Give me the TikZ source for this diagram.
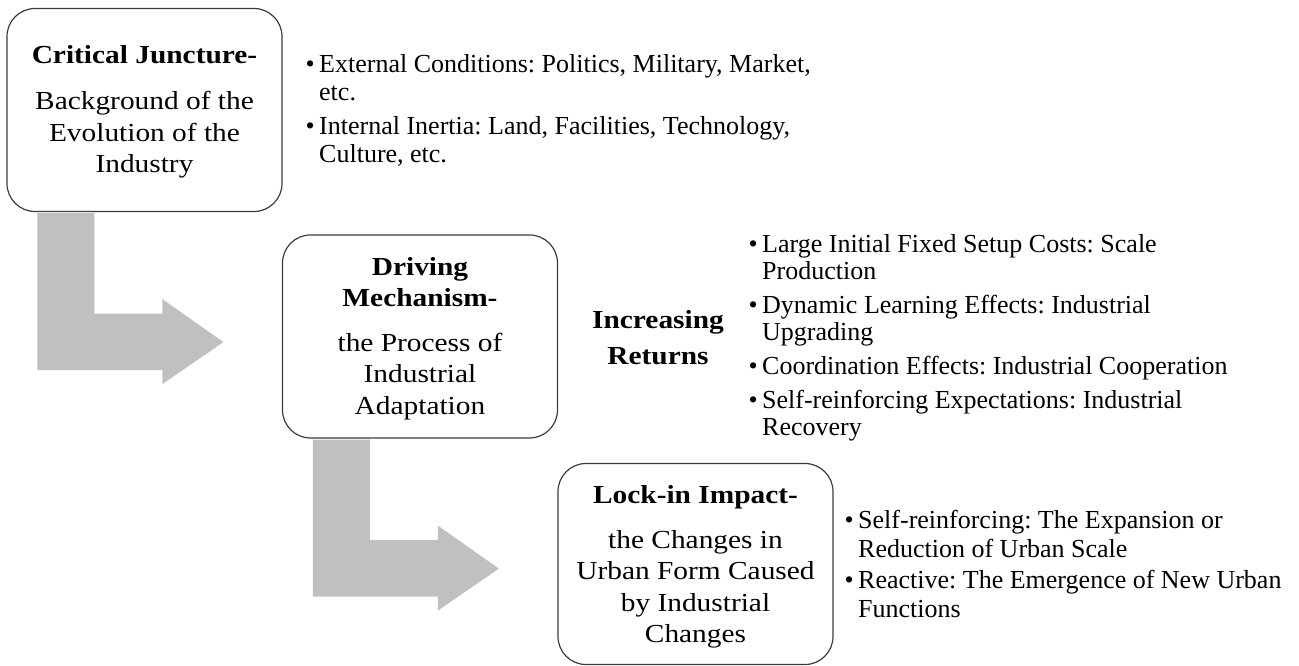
\documentclass[tikz,border=0pt]{standalone}
\usepackage{fontspec}
\setmainfont{Liberation Serif}
\newfontfamily\boxfont[FakeStretch=1.13]{Liberation Serif}
\usetikzlibrary{calc}
\frenchspacing
\definecolor{arrowgray}{RGB}{191,192,194}
\definecolor{boxline}{RGB}{60,60,60}
\tikzset{
  stagebox/.style={draw=boxline, line width=1.2pt, rounded corners=28pt, fill=white,
    minimum width=275pt, minimum height=203pt, inner sep=0pt, align=center,
    font={\boxfont\fontsize{26}{31.5}\selectfont}},
  bulletlist/.style={anchor=base west, inner sep=0pt},
  blockarrow/.style={fill=arrowgray, draw=none},
  keylabel/.style={anchor=base, inner sep=0pt, font={\boxfont\bfseries\fontsize{26}{36}\selectfont}}
}
\newcommand\grayturn[1]{%
  \fill[blockarrow] ($(#1.south west)+(31,1)$) -- ($(#1.south west)+(88,1)$)
    -- ($(#1.south west)+(88,101.5)$) -- ($(#1.south west)+(156,101.5)$)
    -- ($(#1.south west)+(156,87)$) -- ($(#1.south west)+(217,130)$)
    -- ($(#1.south west)+(156,172)$) -- ($(#1.south west)+(156,158)$)
    -- ($(#1.south west)+(31,158)$) -- cycle;}
\begin{document}
\begin{tikzpicture}[x=1pt,y=-1pt]
\useasboundingbox (0,0) rectangle (1299,666);

% stage boxes
\node[stagebox] (cj) at (144.5,110) {\rule{0pt}{22pt}\textbf{Critical Juncture-}\\[15pt]Background of the\\Evolution of the\\Industry};
\node[stagebox] (dm) at (420,336.5) {\rule{0pt}{22pt}\textbf{Driving}\\\textbf{Mechanism-}\\[13pt]the Process of\\Industrial\\Adaptation};
\node[stagebox, minimum height=201pt] (li) at (695.5,564) {\rule{0pt}{24pt}\textbf{Lock-in Impact-}\\[13pt]the Changes in\\Urban Form Caused\\by Industrial\\Changes};

% block arrows between stages
\grayturn{cj}
\grayturn{dm}

% bullet lists
\node[bulletlist, font={\fontsize{26}{28}\selectfont}] (ext) at (305.4,73) {\begin{tabular}[t]{@{}l@{\hspace{4.5pt}}l@{}}
•&External Conditions: Politics, Military, Market,\\
&etc.\\[6pt]
•&Internal Inertia: Land, Facilities, Technology,\\
&Culture, etc.
\end{tabular}};

\node[keylabel] (inc) at (658,328) {\begin{tabular}[t]{@{}c@{}}Increasing\\Returns\end{tabular}};

\node[bulletlist, font={\fontsize{26}{27}\selectfont}] (ret) at (748.4,252) {\begin{tabular}[t]{@{}l@{\hspace{4.5pt}}l@{}}
•&Large Initial Fixed Setup Costs: Scale\\
&Production\\[7pt]
•&Dynamic Learning Effects: Industrial\\
&Upgrading\\[7pt]
•&Coordination Effects: Industrial Cooperation\\[7pt]
•&Self-reinforcing Expectations: Industrial\\
&Recovery
\end{tabular}};

\node[bulletlist, font={\fontsize{26}{29}\selectfont}] (urb) at (844.4,528) {\begin{tabular}[t]{@{}l@{\hspace{4.5pt}}l@{}}
•&Self-reinforcing: The Expansion or\\
&Reduction of Urban Scale\\[2pt]
•&Reactive: The Emergence of New Urban\\
&Functions
\end{tabular}};
\end{tikzpicture}
\end{document}
